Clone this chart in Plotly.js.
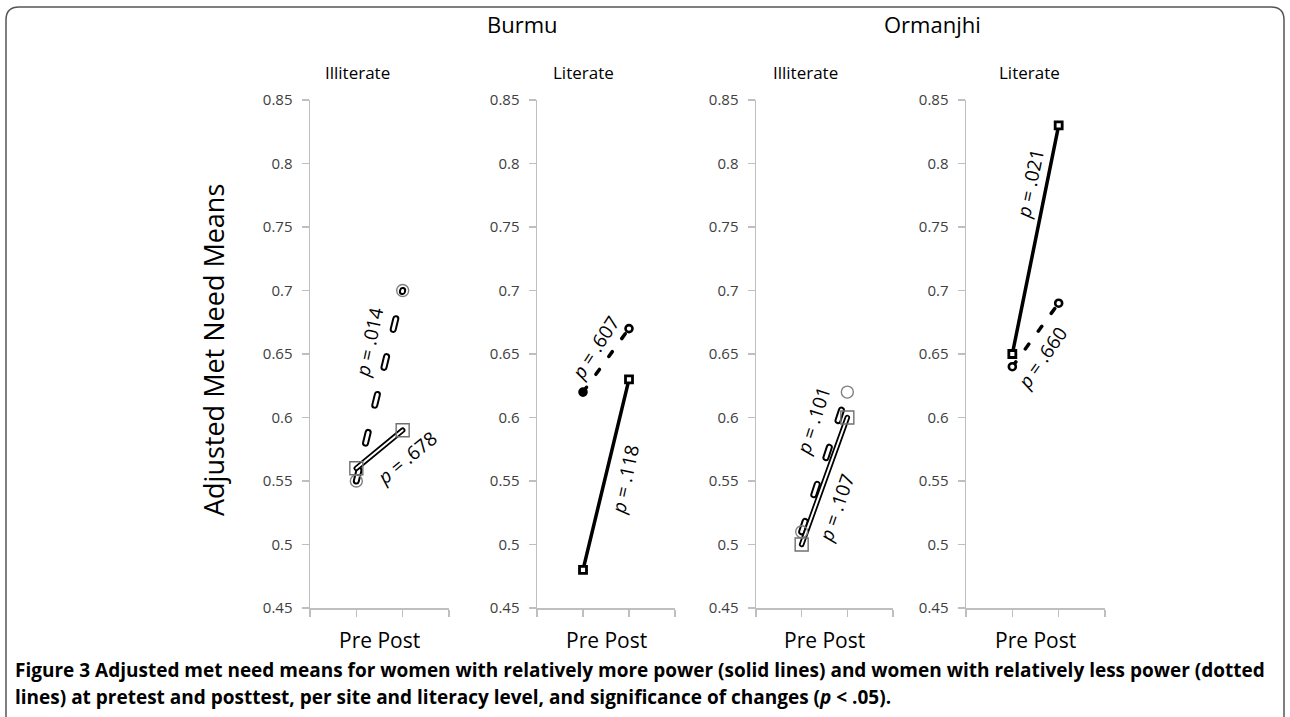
<!DOCTYPE html>
<html>
<head>
<meta charset="utf-8">
<script src="https://cdn.plot.ly/plotly-3.0.1.min.js"></script>
<style>
  html, body { margin: 0; padding: 0; background: #fff; }
  #chart { width: 1290px; height: 717px; }
  .scatterlayer .js-line { stroke-linecap: round !important; }
</style>
</head>
<body>
<div id="chart"></div>
<script>
// ---- Data ----
const categories = ['Pre', 'Post'];
const sites = ['Burmu', 'Ormanjhi'];
const literacy = ['Illiterate', 'Literate', 'Illiterate', 'Literate'];
// women with relatively more power (solid lines)
const morePowerPre  = [0.56, 0.48, 0.50, 0.65];
const morePowerPost = [0.59, 0.63, 0.60, 0.83];
// women with relatively less power (dotted lines)
const lessPowerPre  = [0.55, 0.62, 0.51, 0.64];
const lessPowerPost = [0.70, 0.67, 0.62, 0.69];
// significance of change
const pMore = ['.678', '.118', '.107', '.021'];
const pLess = ['.014', '.607', '.101', '.660'];
const yTickVals = [0.45, 0.5, 0.55, 0.6, 0.65, 0.7, 0.75, 0.8, 0.85];
const yTickText = ['0.45', '0.5', '0.55', '0.6', '0.65', '0.7', '0.75', '0.8', '0.85'];
const captionLine1 = '<b>Figure 3</b> Adjusted met need means for women with relatively more power (solid lines) and women with relatively less power (dotted';
const captionLine2 = 'lines) at pretest and posttest, per site and literacy level, and significance of changes (<i>p</i> &lt; .05).';

// ---- Layout helpers ----
const W = 1290, H = 717;
const px = v => v / W;
const py = v => 1 - v / H;
const xDomains = [[310, 449], [537, 675], [756, 893], [966, 1105]];
const yDomain = [py(608), py(100)];
const xCat = categories.map((c, i) => i + 1);
const FONT = 'Open Sans, Noto Sans, sans-serif';
const AX = '#bfbfbf';

// label placement (axis units) and angles
const lessLabelPos = [[1.27, 0.659, -78], [1.26, 0.655, -57], [1.26, 0.597, -72], [1.64, 0.647, -55]];
const moreLabelPos = [[2.09, 0.568, -39.5], [1.91, 0.551, -78], [1.76, 0.529, -71], [1.38, 0.784, -78]];

const traces = [];
const annotations = [];
const layout = {
  width: W, height: H,
  margin: {l: 0, r: 0, t: 0, b: 0, pad: 0},
  paper_bgcolor: '#ffffff',
  plot_bgcolor: 'rgba(0,0,0,0)',
  showlegend: false,
  font: {family: FONT, color: '#000'},
  shapes: [{
    type: 'path', xref: 'paper', yref: 'paper',
    path: `M ${px(6)} ${py(717)} L ${px(6)} ${py(20)} Q ${px(6)} ${py(7)} ${px(19)} ${py(7)} L ${px(1271)} ${py(7)} Q ${px(1284)} ${py(7)} ${px(1284)} ${py(20)} L ${px(1284)} ${py(717)}`,
    line: {color: '#555555', width: 1.5}
  }]
};

literacy.forEach((lit, i) => {
  const s = i === 0 ? '' : String(i + 1);
  const xa = 'x' + s, ya = 'y' + s;
  layout['xaxis' + s] = {
    domain: [px(xDomains[i][0]), px(xDomains[i][1])],
    range: [0, 3], tickvals: [0, 1, 2, 3], showticklabels: false,
    ticks: 'outside', ticklen: 7, tickwidth: 1.2, tickcolor: AX,
    showline: true, linecolor: AX, linewidth: 1.5,
    showgrid: false, zeroline: false, fixedrange: true, anchor: ya, automargin: false
  };
  layout['yaxis' + s] = {
    domain: yDomain, range: [0.45, 0.85],
    tickmode: 'array', tickvals: yTickVals, ticktext: yTickText,
    ticks: 'outside', ticklen: 7, tickwidth: 1.2, tickcolor: AX,
    ticklabelstandoff: 6,
    tickfont: {family: FONT, size: 15, color: '#404040'},
    showline: true, linecolor: AX, linewidth: 1.5,
    showgrid: false, zeroline: false, fixedrange: true, anchor: xa, automargin: false
  };
  const more = [morePowerPre[i], morePowerPost[i]];
  const less = [lessPowerPre[i], lessPowerPost[i]];
  if (lit === 'Illiterate') {
    // double outlined lines with open grey markers
    traces.push({x: xCat, y: less, xaxis: xa, yaxis: ya, mode: 'lines', cliponaxis: false,
      line: {color: '#000', width: 7, dash: '11px,28px'}, hoverinfo: 'skip'});
    traces.push({x: xCat, y: less, xaxis: xa, yaxis: ya, mode: 'lines', cliponaxis: false,
      line: {color: '#fff', width: 3, dash: '11px,28px'}, hoverinfo: 'skip'});
    traces.push({x: xCat, y: more, xaxis: xa, yaxis: ya, mode: 'lines', cliponaxis: false,
      line: {color: '#000', width: 5.5}, hoverinfo: 'skip'});
    traces.push({x: xCat, y: more, xaxis: xa, yaxis: ya, mode: 'lines', cliponaxis: false,
      line: {color: '#fff', width: 2}, hoverinfo: 'skip'});
    traces.push({x: xCat, y: less, xaxis: xa, yaxis: ya, mode: 'markers', cliponaxis: false,
      marker: {symbol: 'circle-open', size: 12, color: '#808080', line: {width: 1.4}}});
    traces.push({x: xCat, y: more, xaxis: xa, yaxis: ya, mode: 'markers', cliponaxis: false,
      marker: {symbol: 'square-open', size: 13, color: '#707070', line: {width: 1.4}}});
  } else {
    traces.push({x: xCat, y: less, xaxis: xa, yaxis: ya, mode: 'lines+markers', cliponaxis: false,
      line: {color: '#000', width: 3.5, dash: '6px,16px'},
      marker: {symbol: 'circle', size: 7, color: i === 1 ? ['#000', '#fff'] : '#fff', line: {color: '#000', width: 2.6}}});
    traces.push({x: xCat, y: more, xaxis: xa, yaxis: ya, mode: 'lines+markers', cliponaxis: false,
      line: {color: '#000', width: 3.5},
      marker: {symbol: 'square', size: 7, color: '#fff', line: {color: '#000', width: 2.8}}});
  }
  // subtitle
  annotations.push({xref: 'paper', yref: 'paper', x: [px(357), px(583), px(805), px(1029)][i], y: py(73),
    text: lit, showarrow: false, xanchor: 'center', yanchor: 'middle',
    font: {family: FONT, size: 17, color: '#000'}});
  // x label
  annotations.push({xref: xa + ' domain', yref: 'paper', x: 0.5, y: py(640),
    text: categories.join(' '), showarrow: false, xanchor: 'center', yanchor: 'middle',
    font: {family: FONT, size: 21, color: '#000'}});
  // p-value labels
  annotations.push({xref: xa, yref: ya, x: lessLabelPos[i][0], y: lessLabelPos[i][1], textangle: lessLabelPos[i][2],
    text: '<i>p</i> = ' + pLess[i], showarrow: false, xanchor: 'center', yanchor: 'middle',
    font: {family: FONT, size: 19, color: '#000'}});
  annotations.push({xref: xa, yref: ya, x: moreLabelPos[i][0], y: moreLabelPos[i][1], textangle: moreLabelPos[i][2],
    text: '<i>p</i> = ' + pMore[i], showarrow: false, xanchor: 'center', yanchor: 'middle',
    font: {family: FONT, size: 19, color: '#000'}});
});

// site titles
annotations.push({xref: 'paper', yref: 'paper', x: px(522), y: py(24), text: sites[0], showarrow: false,
  xanchor: 'center', yanchor: 'middle', font: {family: FONT, size: 22, color: '#000'}});
annotations.push({xref: 'paper', yref: 'paper', x: px(932), y: py(24), text: sites[1], showarrow: false,
  xanchor: 'center', yanchor: 'middle', font: {family: FONT, size: 22, color: '#000'}});
// y title
annotations.push({xref: 'paper', yref: 'paper', x: px(213), y: py(350), text: 'Adjusted Met Need Means', textangle: -90,
  showarrow: false, xanchor: 'center', yanchor: 'middle', font: {family: FONT, size: 27, color: '#000'}});
// caption
annotations.push({xref: 'paper', yref: 'paper', x: px(13), y: py(670), text: captionLine1, showarrow: false,
  xanchor: 'left', yanchor: 'middle', font: {family: FONT, size: 19, color: '#000', weight: 'bold'}});
annotations.push({xref: 'paper', yref: 'paper', x: px(13), y: py(697), text: captionLine2, showarrow: false,
  xanchor: 'left', yanchor: 'middle', font: {family: FONT, size: 19, color: '#000', weight: 'bold'}});

layout.annotations = annotations;

Plotly.newPlot('chart', traces, layout, {staticPlot: true, displayModeBar: false});
</script>
</body>
</html>
